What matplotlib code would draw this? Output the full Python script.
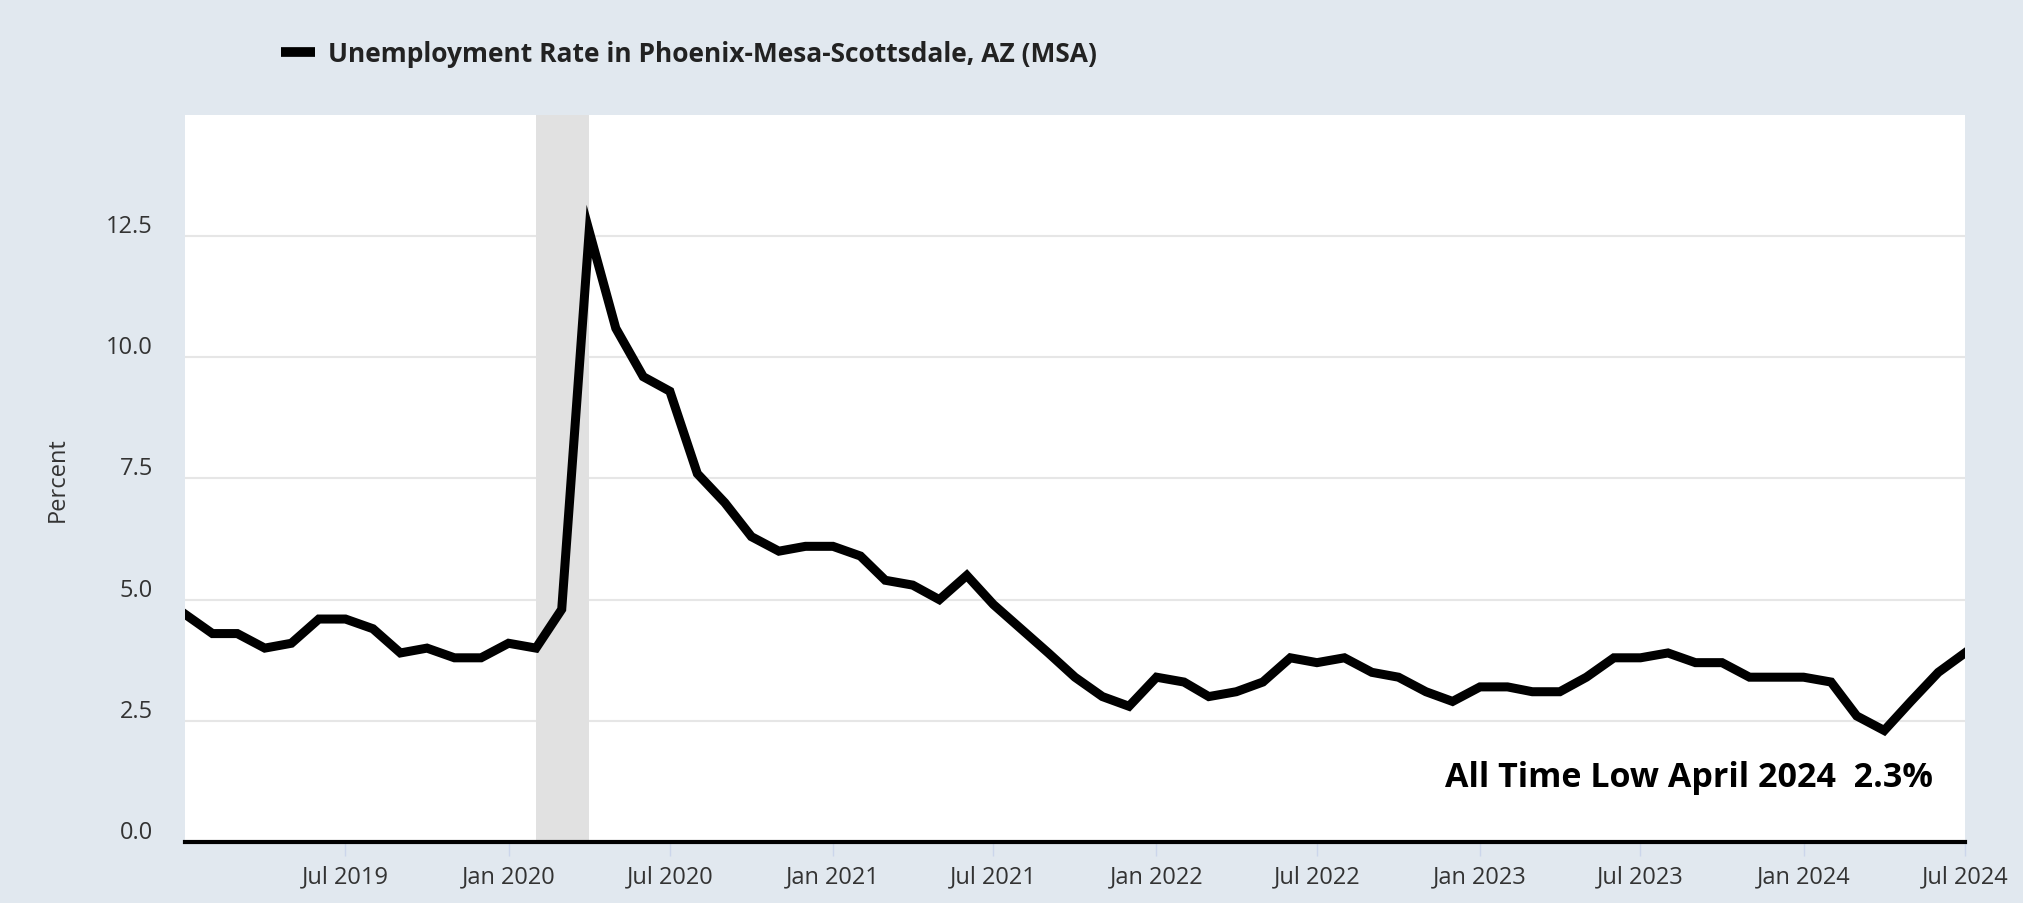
import pandas as pd
import matplotlib
matplotlib.use("Agg")
import matplotlib.pyplot as plt
import matplotlib.dates as mdates
import matplotlib.transforms as mtransforms

plt.rcParams['font.family'] = ['Open Sans', 'DejaVu Sans']

# Unemployment rate, monthly Jan 2019 - Jul 2024 (percent)
rate = [4.7, 4.3, 4.3, 4.0, 4.1, 4.6, 4.6, 4.4, 3.9, 4.0, 3.8, 3.8,
        4.1, 4.0, 4.8, 12.6, 10.6, 9.6, 9.3, 7.6, 7.0, 6.3, 6.0, 6.1,
        6.1, 5.9, 5.4, 5.3, 5.0, 5.5, 4.9, 4.4, 3.9, 3.4, 3.0, 2.8,
        3.4, 3.3, 3.0, 3.1, 3.3, 3.8, 3.7, 3.8, 3.5, 3.4, 3.1, 2.9,
        3.2, 3.2, 3.1, 3.1, 3.4, 3.8, 3.8, 3.9, 3.7, 3.7, 3.4, 3.4,
        3.4, 3.3, 2.6, 2.3, 2.9, 3.5, 3.9]
dates = pd.date_range("2019-01-01", periods=len(rate), freq="MS")
tick_dates = pd.date_range("2019-07-01", "2024-07-01", freq="6MS")
recession = (pd.Timestamp("2020-02-01"), pd.Timestamp("2020-04-01"))
series_name = "Unemployment Rate in Phoenix-Mesa-Scottsdale, AZ (MSA)"
note = "All Time Low April 2024  2.3%"

bg = "#e1e8ef"
fig = plt.figure(figsize=(20.24, 9.04), dpi=100, facecolor=bg)
ax = fig.add_axes([0.0914, 0.0675, 0.8794, 0.8042])
ax.set_facecolor("white")

ax.axvspan(recession[0], recession[1], color="#e1e1e1", lw=0, zorder=1)
ax.plot(dates, rate, color="black", lw=6.5, solid_joinstyle="miter", zorder=3)

ax.set_xlim(dates[0], dates[-1])
ax.set_ylim(0, 15)
ax.set_yticks([0, 2.5, 5.0, 7.5, 10.0, 12.5])
ax.yaxis.set_major_formatter(plt.FuncFormatter(lambda v, p: f"{v:.1f}"))
ax.grid(axis="y", color="#e6e6e6", lw=1.5, zorder=0)
ax.set_axisbelow(True)

ax.set_xticks(tick_dates)
ax.xaxis.set_major_formatter(mdates.DateFormatter("%b %Y"))

for s in ["left", "right", "top"]:
    ax.spines[s].set_visible(False)
ax.spines["bottom"].set_color("black")
ax.spines["bottom"].set_linewidth(3)
ax.spines["bottom"].set_zorder(4)

ax.tick_params(axis="x", length=10, width=1, color="#ccd6eb", labelsize=17,
               labelcolor="#333333", pad=6)
ax.tick_params(axis="y", length=0, labelsize=17, labelcolor="#333333", pad=23)
offset = mtransforms.ScaledTranslation(0, 13 / 100, fig.dpi_scale_trans)
for lbl in ax.get_yticklabels():
    lbl.set_transform(lbl.get_transform() + offset)

ax.set_ylabel("Percent", fontsize=17, color="#333333", labelpad=26)

ax.text(0.982, 0.089, note, transform=ax.transAxes, ha="right", va="center",
        fontsize=24.5, fontweight="bold", color="black", zorder=5)

fig.legend([plt.Line2D([], [], color="black", lw=7, solid_capstyle="butt")],
           [series_name], loc="center left", bbox_to_anchor=(0.127, 0.94),
           frameon=False, handlelength=1.3, handletextpad=0.5,
           prop={"size": 19, "weight": "bold"}, labelcolor="#222222")

fig.savefig("out.png", dpi=100, facecolor=bg)
